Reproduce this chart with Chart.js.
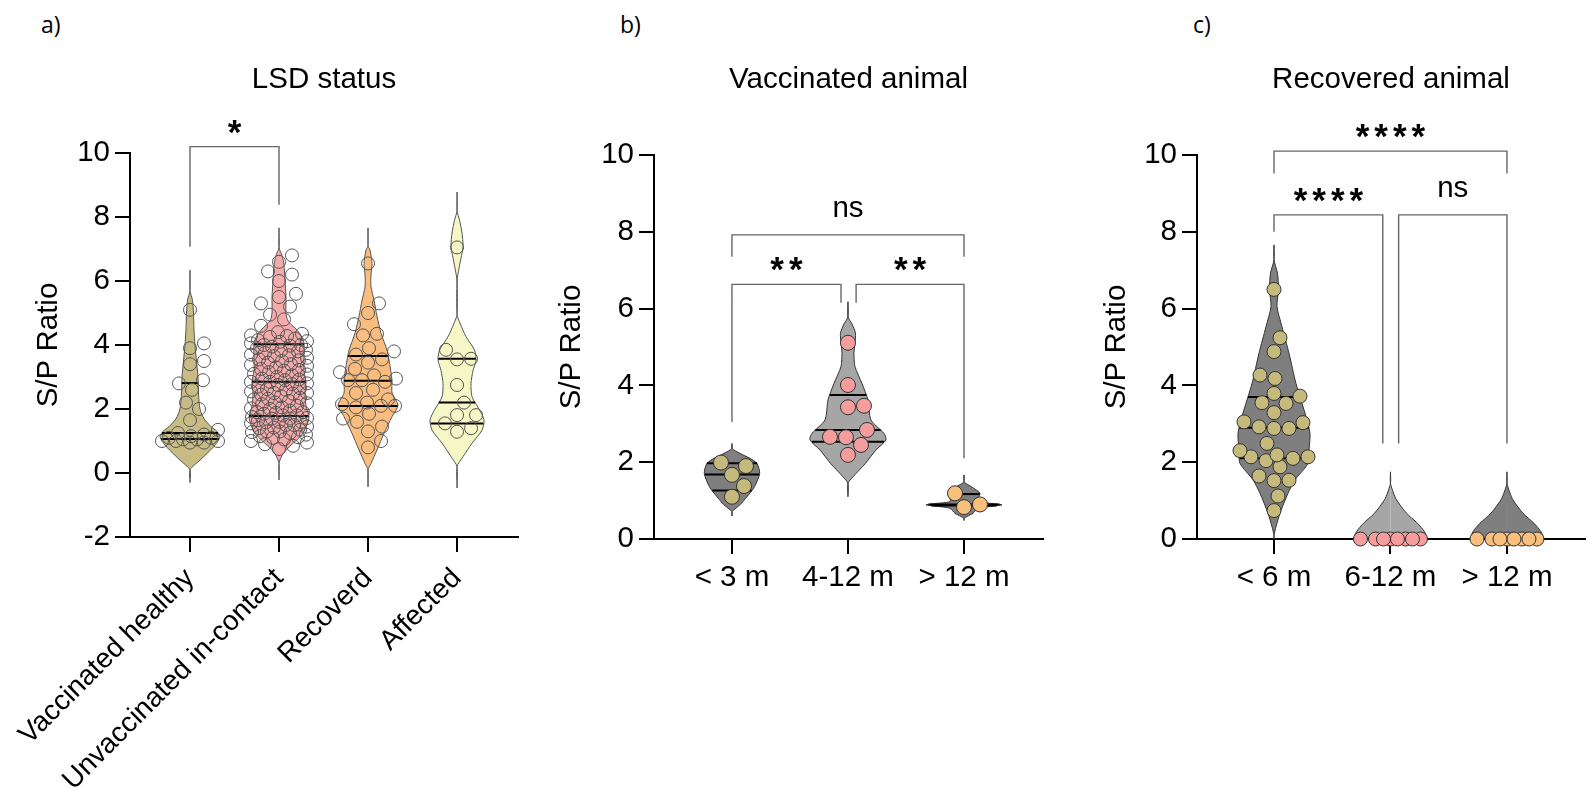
<!DOCTYPE html>
<html>
<head>
<meta charset="utf-8">
<script src="https://cdn.jsdelivr.net/npm/chart.js@4.4.1/dist/chart.umd.min.js"></script>
<style>
  body { margin: 0; background: #fff; width: 1595px; height: 801px; position: relative; overflow: hidden;
         font-family: "Liberation Sans", Arial, sans-serif; }
  canvas { position: absolute; top: 0; }
  .tag { position: absolute; top: 8px; font-size: 23px; color: #000; font-family: "Open Sans", "Liberation Sans", sans-serif; }
</style>
</head>
<body>
<div class="tag" style="left:41px">a)</div>
<div class="tag" style="left:620px">b)</div>
<div class="tag" style="left:1193px">c)</div>
<canvas id="chartA" width="540" height="801" style="left:0"></canvas>
<canvas id="chartB" width="520" height="801" style="left:540px"></canvas>
<canvas id="chartC" width="535" height="801" style="left:1060px"></canvas>
<script>
// ---------- a) LSD status ----------
const groupsA = ['Vaccinated healthy', 'Unvaccinated in-contact', 'Recoverd', 'Affected'];
const yTicksA = [-2, 0, 2, 4, 6, 8, 10];
const vaccinatedHealthy = [0.95, 0.95, 1.0, 1.0, 1.0, 1.05, 1.05, 1.1, 1.1, 1.15, 1.2, 1.25, 1.35, 1.65,
  2.0, 2.2, 2.6, 2.8, 2.9, 3.4, 3.5, 3.9, 4.05, 5.1];
const unvaccinatedContact = [0.75, 0.85, 0.9, 0.95, 1.0,
  1.05, 1.1, 1.12, 1.15, 1.2, 1.25, 1.28, 1.3, 1.3, 1.35, 1.4, 1.42, 1.45, 1.5, 1.5,
  1.55, 1.58, 1.6, 1.6, 1.65, 1.7, 1.7, 1.72, 1.75, 1.8, 1.8, 1.85, 1.88, 1.9, 1.9, 1.95, 2.0,
  2.02, 2.05, 2.1, 2.15, 2.18, 2.2, 2.25, 2.3, 2.32, 2.35, 2.4, 2.45, 2.48, 2.5, 2.5,
  2.55, 2.6, 2.62, 2.65, 2.7, 2.75, 2.78, 2.8, 2.85, 2.85, 2.9, 2.92, 2.95, 3.0,
  3.05, 3.08, 3.1, 3.15, 3.2, 3.22, 3.25, 3.3, 3.35, 3.38, 3.4, 3.45, 3.5,
  3.52, 3.55, 3.6, 3.65, 3.68, 3.7, 3.75, 3.8, 3.82, 3.85, 3.9, 3.95, 3.98, 4.0, 4.0,
  4.05, 4.1, 4.12, 4.15, 4.2, 4.25, 4.28, 4.3, 4.35, 4.4,
  4.6, 4.8, 4.95, 5.2, 5.3, 5.5, 5.6, 6.0, 6.2, 6.3, 6.6, 6.8];
const recoverd = [0.8, 1.0, 1.3, 1.45, 1.6, 1.7, 1.85, 2.05, 2.1, 2.1, 2.15, 2.2, 2.3, 2.5, 2.6, 2.85,
  2.9, 2.9, 2.95, 3.05, 3.15, 3.25, 3.45, 3.55, 3.7, 3.8, 3.9, 4.3, 4.35, 4.65, 5.0, 5.3, 6.55];
const affected = [1.29, 1.4, 1.55, 1.81, 1.81, 2.2, 2.75, 3.55, 3.57, 3.85, 7.05];
const quartilesA = [[1.06, 1.25, 2.81], [1.78, 2.85, 4.02], [2.09, 2.88, 3.66], [1.55, 2.2, 3.57]];
// violin tails (end of the thin line below / above the filled shape)
const tailsA = [[-0.3, 6.34], [-0.22, 7.66], [-0.43, 7.66], [-0.47, 8.78]];
// violin outlines: [S/P value, relative half width]
const outlineA = [
  [[0.1, 0], [0.4, 10], [0.8, 23], [1.0, 28], [1.15, 30], [1.3, 27], [1.45, 21], [1.7, 14], [2.0, 10],
   [2.5, 8.5], [3.0, 8], [3.5, 6.5], [4.0, 5], [4.5, 4], [5.0, 3.5], [5.4, 2.5], [5.7, 0]],
  [[0.3, 0], [0.6, 4], [0.87, 12], [1.2, 23], [1.5, 28], [1.76, 30], [2.1, 27], [2.5, 26], [2.85, 27],
   [3.2, 25], [3.6, 25], [4.05, 25], [4.3, 22], [4.5, 17], [4.75, 9], [5.0, 7], [5.5, 7], [6.0, 6],
   [6.5, 5], [6.8, 3], [7.05, 0]],
  [[0.1, 0], [0.3, 3], [0.72, 9], [1.24, 16], [1.76, 24], [2.12, 30], [2.5, 24], [2.9, 24], [3.53, 21],
   [3.84, 19], [4.37, 13], [4.9, 9], [5.4, 6], [5.82, 3], [6.2, 3], [6.55, 4], [6.97, 2], [7.1, 0]],
  [[0.2, 0], [0.51, 6], [0.93, 15], [1.34, 25], [1.66, 27], [1.97, 22.5], [2.38, 15], [2.8, 14], [3.2, 16],
   [3.53, 19], [3.84, 17.5], [4.26, 9], [4.68, 3], [4.95, 0], [6.0, 0], [6.4, 2], [6.8, 4.5], [7.1, 6],
   [7.5, 5], [7.9, 2.5], [8.2, 0]]
];
const bracketsA = [{from: 1, to: 2, top: 10.2, legs: [7.07, 8.38], text: '*', textY: 10.78}];

// ---------- b) Vaccinated animal ----------
const groupsB = ['< 3 m', '4-12 m', '> 12 m'];
const yTicksB = [0, 2, 4, 6, 8, 10];
const vaccUnder3 = [1.10, 1.38, 1.67, 1.90, 1.99];
const vacc4to12 = [2.19, 2.45, 2.65, 2.66, 2.84, 3.43, 3.47, 4.01, 5.11];
const vaccOver12 = [0.83, 0.90, 1.19];
const quartilesB = [[1.26, 1.68, 1.97], [2.53, 2.84, 3.75], [0.87, 0.9, 1.17]];
const tailsB = [[0.6, 2.49], [1.10, 6.18], [0.48, 1.67]];
const outlineB = [
  [[0.71, 0], [0.89, 8], [1.10, 15], [1.36, 22.5], [1.71, 27.7], [1.97, 25], [2.10, 18], [2.23, 8], [2.36, 0]],
  [[1.45, 0], [1.62, 5], [1.97, 17.5], [2.32, 28], [2.58, 38], [2.75, 36], [3.10, 23], [3.62, 20],
   [4.05, 14], [4.49, 7], [4.84, 6], [5.1, 7], [5.36, 7.5], [5.6, 4], [5.79, 0]],
  [[0.54, 0], [0.67, 9], [0.8, 14], [0.86, 30], [0.89, 38], [0.92, 30], [0.97, 14], [1.05, 14],
   [1.19, 16], [1.3, 11], [1.4, 5], [1.49, 0]]
];
const bracketsB = [
  {from: 1, to: 3, top: 7.92, legs: [7.35, 7.35], text: 'ns', textY: 8.6},
  {from: 1, to: 1.94, top: 6.63, legs: [3.05, 6.15], text: '**', textY: 7.12},
  {from: 2.07, to: 3, top: 6.63, legs: [6.15, 2.10], text: '**', textY: 7.12}
];

// ---------- c) Recovered animal ----------
const groupsC = ['< 6 m', '6-12 m', '> 12 m'];
const yTicksC = [0, 2, 4, 6, 8, 10];
const recUnder6 = [6.50, 5.24, 4.88, 4.18, 4.27, 3.53, 3.55, 3.72, 3.79, 3.29, 2.88, 2.92, 2.88, 3.03,
  3.05, 2.49, 2.14, 2.19, 2.10, 2.30, 2.14, 2.04, 1.88, 1.64, 1.52, 1.53, 1.12, 0.74];
const rec6to12 = [0, 0, 0, 0, 0, 0, 0, 0];
const recOver12 = [0, 0, 0, 0, 0, 0, 0, 0];
const quartilesC = [[2.1, 2.9, 3.7], [0, 0, 0], [0, 0, 0]];
const tailsC = [[0, 7.66], [null, 1.75], [null, 1.75]];
const outlineC = [
  [[0.1, 0], [0.32, 2], [0.67, 6], [1.19, 14], [1.54, 21], [1.97, 34], [2.32, 35], [2.75, 36], [3.19, 32],
   [4.05, 22], [4.84, 15], [5.53, 8], [6.05, 3], [6.5, 4.5], [6.92, 3.5], [7.27, 0]],
  [[0, 37], [0.19, 34], [0.41, 27], [0.67, 16], [1.02, 6], [1.2, 3], [1.45, 0]],
  [[0, 37], [0.19, 34], [0.41, 27], [0.67, 16], [1.02, 6], [1.2, 3], [1.45, 0]]
];
const bracketsC = [
  {from: 1, to: 3, top: 10.1, legs: [9.52, 9.52], text: '****', textY: 10.6},
  {from: 1, to: 1.934, top: 8.44, legs: [8.0, 2.49], text: '****', textY: 8.92},
  {from: 2.07, to: 3, top: 8.44, legs: [2.49, 2.49], text: 'ns', textY: 9.13}
];

const FONT = '"Liberation Sans", Arial, sans-serif';
const SIZE = 29.5;
const olive = '#c6b97c', pink = '#f59c9c', orange = '#f8c07c';
const darkGrey = '#7f7f7f', lightGrey = '#a6a6a6';

Chart.defaults.font.family = FONT;
Chart.defaults.color = '#000';

function widthAt(outline, v) {
  for (let i = 1; i < outline.length; i++) {
    const [y0, w0] = outline[i - 1], [y1, w1] = outline[i];
    if (v >= y0 && v <= y1) return y1 === y0 ? Math.max(w0, w1) : w0 + (w1 - w0) * (v - y0) / (y1 - y0);
  }
  return 0;
}

// simple beeswarm: keep dots apart sideways, within +-spread pixels
function swarm(values, c, geo, r, spread) {
  const diam = 2 * r + 1;
  const placed = [];
  return [...values].sort((a, b) => a - b).map(v => {
    const yp = v * geo.pxY;
    let best = 0, bestD = -1;
    for (let k = 0; k <= 2 * spread; k++) {
      const off = (k % 2 ? 1 : -1) * Math.ceil(k / 2);
      let dmin = Infinity;
      for (const q of placed) dmin = Math.min(dmin, Math.hypot(q.x - off, q.y - yp));
      if (dmin >= diam) { best = off; break; }
      if (dmin > bestD) { bestD = dmin; best = off; }
    }
    placed.push({x: best, y: yp});
    return {x: c + best / geo.pxX, y: v};
  });
}

const bracketText = {
  id: 'bracketText',
  afterDatasetsDraw(chart, args, opts) {
    const {ctx, scales: {x, y}} = chart;
    ctx.save();
    ctx.fillStyle = '#000';
    ctx.textAlign = 'center';
    ctx.textBaseline = 'middle';
    opts.items.forEach(b => {
      const star = b.text.includes('*');
      ctx.font = star ? 'bold 35px ' + FONT : SIZE + 'px ' + FONT;
      ctx.letterSpacing = star ? '5px' : '0px';
      const px = x.getPixelForValue((b.from + b.to) / 2) + (star ? 2.5 : 0);
      ctx.fillText(b.text, px, y.getPixelForValue(b.textY) + (star ? 6 : 0));
    });
    ctx.restore();
  }
};

function buildPanel(id, cfg) {
  const L = cfg.layout;
  const geo = {
    pxX: (L.right - L.left) / (cfg.xRange[1] - cfg.xRange[0]),
    pxY: (L.bottom - L.top) / (cfg.yRange[1] - cfg.yRange[0])
  };
  const datasets = [];
  cfg.groups.forEach((name, i) => {
    const c = i + 1;
    const outline = cfg.outlines[i];
    const [lo, hi] = cfg.tails[i];
    const half = s => {
      const pts = outline.map(([v, w]) => ({x: c + s * w / geo.pxX, y: v}));
      if (lo !== null) pts.unshift({x: c, y: lo});
      if (hi !== null) pts.push({x: c, y: hi});
      return pts;
    };
    [1, -1].forEach(s => datasets.push({
      data: half(s), fill: {value: c}, backgroundColor: cfg.fills[i], borderColor: cfg.edge,
      borderWidth: 1, pointRadius: 0, tension: 0.25, order: 3
    }));
    cfg.quartiles[i].forEach(q => {
      const w = widthAt(outline, q) / geo.pxX;
      datasets.push({data: [{x: c - w, y: q}, {x: c + w, y: q}], borderColor: '#000', borderWidth: 2,
        pointRadius: 0, order: 2});
    });
    datasets.push({
      data: swarm(cfg.values[i], c, geo, cfg.pointR, cfg.spread), showLine: false,
      pointRadius: cfg.pointR, pointBackgroundColor: cfg.dots[i], pointBorderColor: cfg.dotEdge,
      pointBorderWidth: 1, clip: false, order: 1
    });
  });
  cfg.brackets.forEach(b => datasets.push({
    data: [{x: b.from, y: b.legs[0]}, {x: b.from, y: b.top}, {x: b.to, y: b.top}, {x: b.to, y: b.legs[1]}],
    borderColor: '#666', borderWidth: 1.4, pointRadius: 0, clip: false, order: 0
  }));

  const cLeft = cfg.canvas.left, cWidth = cfg.canvas.width;
  const half = SIZE * 1.2 / 2;
  new Chart(document.getElementById(id), {
    type: 'line',
    data: {datasets},
    plugins: [bracketText],
    options: {
      responsive: false,
      animation: false,
      events: [],
      indexAxis: 'y',
      layout: {padding: {left: 0, top: 0, bottom: 0, right: cLeft + cWidth - L.right}},
      plugins: {
        legend: {display: false},
        tooltip: {enabled: false},
        title: {
          display: true, text: cfg.title, fullSize: false, color: '#000',
          font: {size: SIZE, weight: 'normal'},
          padding: {top: cfg.titleY - half, bottom: L.top - cfg.titleY - half}
        },
        bracketText: {items: cfg.brackets}
      },
      scales: {
        x: {
          type: 'linear', position: 'bottom', min: cfg.xRange[0], max: cfg.xRange[1],
          afterBuildTicks: s => { s.ticks = cfg.groups.map((g, i) => ({value: i + 1})); },
          afterFit: s => { s.height = 801 - L.bottom; s.paddingLeft = 0; s.paddingRight = 0; },
          ticks: {
            callback: v => cfg.groups[Math.round(v) - 1], autoSkip: false,
            minRotation: cfg.rotation, maxRotation: cfg.rotation,
            font: {size: cfg.xSize}, color: '#000', padding: cfg.xPad
          },
          grid: {drawOnChartArea: false, tickLength: 15, color: '#000', lineWidth: 2},
          border: {color: '#000', width: 2}
        },
        y: {
          type: 'linear', position: 'left', min: cfg.yRange[0], max: cfg.yRange[1],
          afterBuildTicks: s => { s.ticks = cfg.yTicks.map(v => ({value: v})); },
          afterFit: s => { s.width = L.left - cLeft; s.paddingTop = 0; s.paddingBottom = 0; },
          ticks: {font: {size: SIZE}, color: '#000', padding: 5},
          grid: {drawOnChartArea: false, tickLength: 15, color: '#000', lineWidth: 2},
          border: {color: '#000', width: 2},
          title: {
            display: true, text: 'S/P Ratio', color: '#000', font: {size: SIZE},
            padding: {top: cfg.yTitleX - cLeft - half, bottom: 0}
          }
        }
      }
    }
  });
}

buildPanel('chartA', {
  canvas: {left: 0, width: 540},
  layout: {left: 130, top: 153, right: 518, bottom: 537},
  xRange: [0.326, 4.685], yRange: [-2, 10], yTicks: yTicksA,
  title: 'LSD status', titleY: 80, yTitleX: 49, rotation: 45, xPad: 10, xSize: 28,
  groups: groupsA,
  values: [vaccinatedHealthy, unvaccinatedContact, recoverd, affected],
  quartiles: quartilesA, tails: tailsA, outlines: outlineA, brackets: bracketsA,
  fills: ['#c8bc84', '#f6abab', '#f9bd80', '#f6f7c6'], edge: '#555',
  dots: ['rgba(0,0,0,0)', 'rgba(0,0,0,0)', 'rgba(0,0,0,0)', 'rgba(0,0,0,0)'], dotEdge: '#555',
  pointR: 6.5, spread: 28
});

buildPanel('chartB', {
  canvas: {left: 540, width: 520},
  layout: {left: 654, top: 155, right: 1043, bottom: 539},
  xRange: [0.328, 3.681], yRange: [0, 10], yTicks: yTicksB,
  title: 'Vaccinated animal', titleY: 80, yTitleX: 572, rotation: 0, xPad: 6, xSize: SIZE,
  groups: groupsB,
  values: [vaccUnder3, vacc4to12, vaccOver12],
  quartiles: quartilesB, tails: tailsB, outlines: outlineB, brackets: bracketsB,
  fills: [darkGrey, lightGrey, darkGrey], edge: '#333',
  dots: [olive, pink, orange], dotEdge: '#333',
  pointR: 7.5, spread: 31
});

buildPanel('chartC', {
  canvas: {left: 1060, width: 535},
  layout: {left: 1197, top: 155, right: 1585, bottom: 539},
  xRange: [0.339, 3.67], yRange: [0, 10], yTicks: yTicksC,
  title: 'Recovered animal', titleY: 80, yTitleX: 1117, rotation: 0, xPad: 6, xSize: SIZE,
  groups: groupsC,
  values: [recUnder6, rec6to12, recOver12],
  quartiles: quartilesC, tails: tailsC, outlines: outlineC, brackets: bracketsC,
  fills: [darkGrey, lightGrey, darkGrey], edge: '#333',
  dots: [olive, pink, orange], dotEdge: '#333',
  pointR: 7, spread: 34
});
</script>
</body>
</html>
